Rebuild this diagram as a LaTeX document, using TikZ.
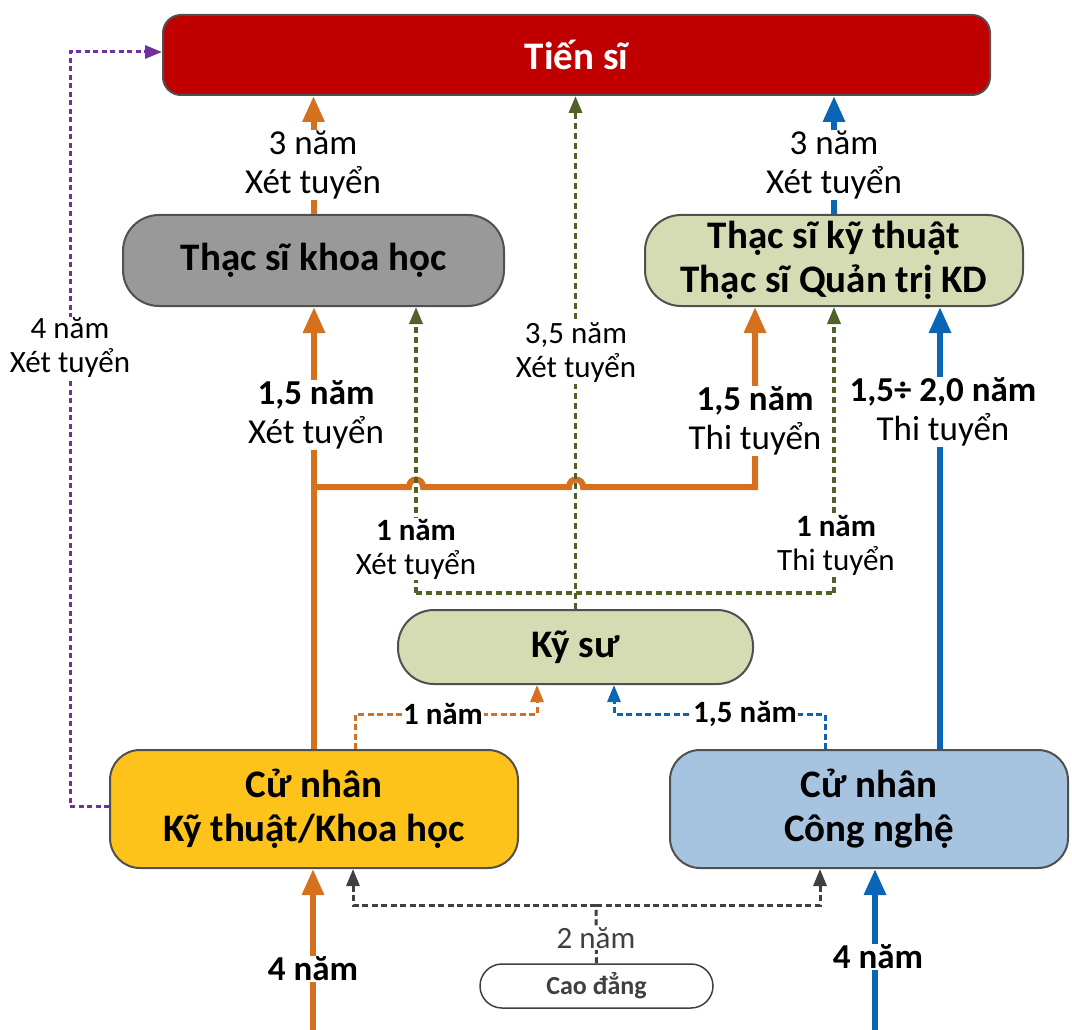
\documentclass[tikz,border=0pt]{standalone}
\usepackage{fontspec}
\setmainfont{Carlito}
\usetikzlibrary{arrows.meta,calc}
\definecolor{cOr}{HTML}{D4701E}
\definecolor{cBl}{HTML}{0A66B4}
\definecolor{cOl}{HTML}{4F6228}
\definecolor{cPu}{HTML}{7030A0}
\definecolor{cGr}{HTML}{404040}
\definecolor{cBd}{HTML}{505050}
\definecolor{fRed}{HTML}{C00000}
\definecolor{fGray}{HTML}{999999}
\definecolor{fOl}{HTML}{D5DCB4}
\definecolor{fYe}{HTML}{FDC31A}
\definecolor{fBl}{HTML}{A6C3DF}
\begin{document}
\begin{tikzpicture}[x=1pt,y=-1pt,
  box/.style={draw=cBd,line width=2pt,inner sep=0pt,align=center,
    font=\fontsize{39}{44}\selectfont\bfseries},
  lab/.style={fill=white,inner sep=1pt,align=center,font=\fontsize{35}{39}\selectfont},
  slab/.style={fill=white,inner sep=1pt,align=center,font=\fontsize{31}{34}\selectfont},
  bigtip/.style={-{Triangle[length=26pt,width=21pt]}},
  smalltip/.style={-{Triangle[length=17pt,width=13pt]}},
  thickor/.style={draw=cOr,line width=6pt},
  thickbl/.style={draw=cBl,line width=6pt},
  oldash/.style={draw=cOl,line width=3.5pt,dash pattern=on 6pt off 4pt},
  ordash/.style={draw=cOr,line width=3pt,dash pattern=on 6pt off 3.5pt},
  bldash/.style={draw=cBl,line width=3pt,dash pattern=on 6pt off 3.5pt},
  grdash/.style={draw=cGr,line width=3pt,dash pattern=on 6pt off 3.5pt},
  pudash/.style={draw=cPu,line width=3pt,dash pattern=on 5pt off 3.5pt}
]
\useasboundingbox (0,0) rectangle (1072,1030);

% boxes
\node[box,fill=fRed,text=white,minimum width=827pt,minimum height=80pt,rounded corners=18pt] (ts) at (576.5,55) {Tiến sĩ};
\node[box,fill=fGray,minimum width=381pt,minimum height=91pt,rounded corners=36pt] (tskh) at (313.5,260.5) {Thạc sĩ khoa học};
\node[box,fill=fOl,minimum width=378pt,minimum height=91pt,rounded corners=36pt] (tskt) at (834,260.5) {Thạc sĩ kỹ thuật\\Thạc sĩ Quản trị KD};
\node[box,fill=fOl,minimum width=355pt,minimum height=74pt,rounded corners=36pt] (ks) at (575.5,647) {Kỹ sư};
\node[box,fill=fYe,minimum width=408pt,minimum height=118pt,rounded corners=30pt] (cnkt) at (314,809) {Cử nhân\\Kỹ thuật/Khoa học};
\node[box,fill=fBl,minimum width=398pt,minimum height=118pt,rounded corners=30pt] (cncn) at (869,809) {Cử nhân\\Công nghệ};
\node[draw=cGr,line width=1.5pt,fill=white,text=cGr,minimum width=233pt,minimum height=44pt,rounded corners=22pt,inner sep=0pt,
  font=\fontsize{26}{30}\selectfont\bfseries] (cd) at (596.5,986) {Cao đẳng};

% helper coordinates
\coordinate (j1) at (314,487);
\coordinate (j2) at (755,487);
\coordinate (k1) at (416,593);
\coordinate (k2) at (834,593);
\coordinate (b1) at (940,750);
\coordinate (o1) at (355,714);
\coordinate (o2) at (537,714);
\coordinate (u1) at (825,714);
\coordinate (u2) at (614,714);
\coordinate (g0) at (596,905);
\coordinate (g1) at (353,905);
\coordinate (g2) at (820,905);
\coordinate (p1) at (70,806);
\coordinate (p2) at (70,52);
\coordinate (s1) at (313,1030);
\coordinate (s2) at (875,1030);

% thick orange
\draw[thickor,bigtip] (tskh.north) -- (tskh.north |- ts.south);
\draw[thickor,bigtip] (cnkt.north) -- (cnkt.north |- tskh.south);
\draw[thickor,bigtip,line join=miter] (j1) -- (409,487) .. controls (409,477) and (423,477) .. (423,487)
  -- (569,487) .. controls (569,477) and (583,477) .. (583,487) -- (j2) -- (j2 |- tskt.south);
\draw[thickor,bigtip] (s1) -- (s1 |- cnkt.south);

% thick blue
\draw[thickbl,bigtip] (tskt.north) -- (tskt.north |- ts.south);
\draw[thickbl,bigtip] (b1 |- cncn.north) -- (b1 |- tskt.south);
\draw[thickbl,bigtip] (s2) -- (s2 |- cncn.south);

% olive dashed
\draw[oldash,smalltip] (ks.north) -- (ks.north |- ts.south);
\draw[oldash] (k1) -- (k2);
\draw[oldash,smalltip] (k1) -- (k1 |- tskh.south);
\draw[oldash,smalltip] (k2) -- (k2 |- tskt.south);

% thin dashed to Ky su
\draw[ordash,smalltip] (o1 |- cnkt.north) -- (o1) -- (o2) -- (o2 |- ks.south);
\draw[bldash,smalltip] (u1 |- cncn.north) -- (u1) -- (u2) -- (u2 |- ks.south);

% gray dashed from Cao dang
\draw[grdash] (cd.north) -- (g0);
\draw[grdash,smalltip] (g0) -- (g1) -- (g1 |- cnkt.south);
\draw[grdash,smalltip] (g0) -- (g2) -- (g2 |- cncn.south);

% purple
\draw[pudash,smalltip] (cnkt.west |- p1) -- (p1) -- (p2) -- (p2 -| ts.west);

% labels
\node[lab] (l1) at (313,165) {3 năm\\Xét tuyển};
\node[lab] (l2) at (834,165) {3 năm\\Xét tuyển};
\node[lab] (l3) at (316,415) {\textbf{1,5 năm}\\Xét tuyển};
\node[lab] (l4) at (755,421) {\textbf{1,5 năm}\\Thi tuyển};
\node[lab] (l5) at (943,412) {\textbf{1,5÷ 2,0 năm}\\Thi tuyển};
\node[slab] (l6) at (576,353) {3,5 năm\\Xét tuyển};
\node[slab] (l7) at (416,549) {\textbf{1 năm}\\Xét tuyển};
\node[slab] (l8) at (836,545) {\textbf{1 năm}\\Thi tuyển};
\node[slab] (l9) at (70,348) {4 năm\\Xét tuyển};
\node[slab] (l10) at (443,714) {\textbf{1 năm}};
\node[slab] (l11) at (745,714) {\textbf{1,5 năm}};
\node[slab,text=cGr] (l12) at (596,938) {2 năm};
\node[lab] (l13) at (313,969) {\textbf{4 năm}};
\node[lab] (l14) at (878,957) {\textbf{4 năm}};
\end{tikzpicture}
\end{document}
